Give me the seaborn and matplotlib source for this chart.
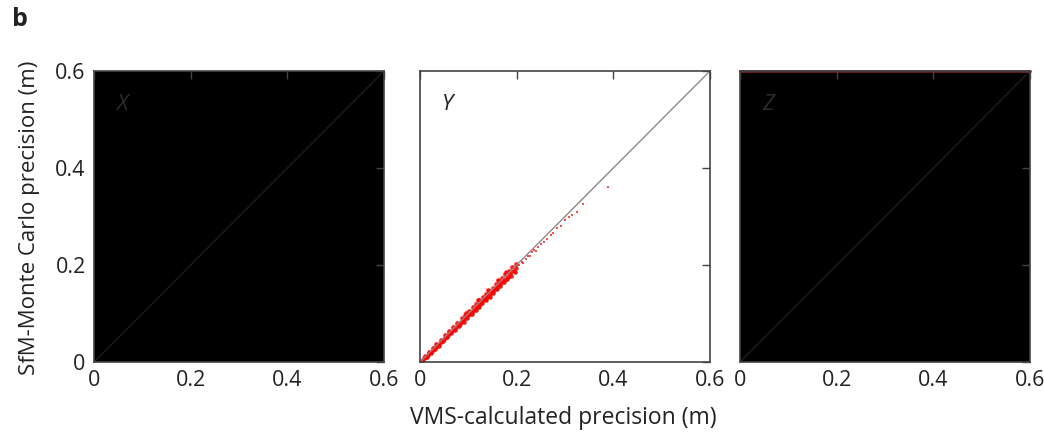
import matplotlib
matplotlib.use("Agg")
import matplotlib.pyplot as plt
import seaborn as sns
import numpy as np
import pandas as pd

sns.set_style("white")
plt.rcParams['font.family'] = ['Open Sans', 'DejaVu Sans']

# ---- data ----
panel_labels = ["X", "Y", "Z"]
tick_values = [0, 0.2, 0.4, 0.6]
tick_labels = ["0", "0.2", "0.4", "0.6"]
diag_x = [0, 0.6]
diag_y = [0, 0.6]

y_band_x = [0.003, 0.006, 0.009, 0.012, 0.016, 0.019, 0.023, 0.026, 0.029, 0.033, 0.036, 0.040,
            0.043, 0.047, 0.050, 0.054, 0.057, 0.061, 0.064, 0.068, 0.071, 0.075, 0.078, 0.082,
            0.085, 0.089, 0.092, 0.096, 0.099, 0.103, 0.106, 0.110, 0.113, 0.117, 0.120, 0.124,
            0.127, 0.131, 0.134, 0.138, 0.141, 0.145, 0.148, 0.152, 0.156, 0.160, 0.164, 0.168,
            0.172, 0.177, 0.182, 0.187, 0.193, 0.199,
            0.010, 0.018, 0.027, 0.034, 0.044, 0.052, 0.060, 0.069, 0.077, 0.086, 0.094, 0.101,
            0.109, 0.116, 0.123, 0.130, 0.137, 0.143, 0.150, 0.157, 0.163, 0.170, 0.176, 0.184,
            0.191, 0.198,
            0.014, 0.022, 0.031, 0.039, 0.048, 0.056, 0.065, 0.073, 0.081, 0.090, 0.098, 0.107,
            0.115, 0.122, 0.129, 0.136, 0.144, 0.151, 0.159, 0.166, 0.173, 0.180, 0.188, 0.196,
            0.095, 0.120, 0.140, 0.162, 0.178]
y_band_y = [0.002, 0.005, 0.009, 0.011, 0.015, 0.018, 0.021, 0.025, 0.028, 0.031, 0.035, 0.038,
            0.042, 0.045, 0.048, 0.052, 0.055, 0.059, 0.062, 0.066, 0.069, 0.072, 0.076, 0.079,
            0.083, 0.086, 0.089, 0.093, 0.096, 0.100, 0.103, 0.106, 0.110, 0.113, 0.116, 0.120,
            0.123, 0.127, 0.130, 0.133, 0.137, 0.140, 0.144, 0.147, 0.151, 0.155, 0.158, 0.163,
            0.166, 0.171, 0.176, 0.181, 0.187, 0.193,
            0.012, 0.020, 0.029, 0.037, 0.046, 0.055, 0.063, 0.072, 0.080, 0.090, 0.097, 0.105,
            0.113, 0.119, 0.127, 0.134, 0.140, 0.147, 0.153, 0.161, 0.167, 0.174, 0.181, 0.188,
            0.196, 0.203,
            0.011, 0.018, 0.027, 0.034, 0.043, 0.051, 0.059, 0.067, 0.075, 0.083, 0.091, 0.099,
            0.107, 0.114, 0.121, 0.128, 0.135, 0.142, 0.150, 0.157, 0.164, 0.171, 0.178, 0.186,
            0.102, 0.128, 0.148, 0.169, 0.186]
y_tail_x = [0.205, 0.210, 0.214, 0.219, 0.223, 0.228, 0.232, 0.236, 0.240, 0.245, 0.250, 0.257,
            0.263, 0.270, 0.276, 0.283, 0.292, 0.300, 0.308, 0.315, 0.324, 0.338, 0.388]
y_tail_y = [0.200, 0.207, 0.204, 0.213, 0.218, 0.219, 0.226, 0.230, 0.228, 0.237, 0.243, 0.247,
            0.254, 0.262, 0.265, 0.276, 0.280, 0.292, 0.299, 0.304, 0.310, 0.326, 0.361]

z_top_x = [0.0, 0.6]
z_top_y = [0.6, 0.6]

# ---- figure ----
fig = plt.figure(figsize=(10.44, 4.38), dpi=100)
W, H = 1044, 438
lefts = [94, 420, 740]
axes = []
for i, l in enumerate(lefts):
    ax = fig.add_axes([l / W, (H - 362) / H, 290 / W, 291 / H])
    axes.append(ax)

spine_col = "#444444"
for i, ax in enumerate(axes):
    black = panel_labels[i] in ("X", "Z")
    ax.set_facecolor("black" if black else "white")
    sns.lineplot(x=diag_x, y=diag_y, ax=ax,
                 color="#1e1e1e" if black else "#8a8a8a", lw=1.0)
    if panel_labels[i] == "Y":
        df_band = pd.DataFrame({"x": y_band_x, "y": y_band_y})
        df_tail = pd.DataFrame({"x": y_tail_x, "y": y_tail_y})
        sns.scatterplot(data=df_band, x="x", y="y", ax=ax, color="red", s=11,
                        marker="o", linewidth=0, alpha=0.9)
        sns.scatterplot(data=df_tail, x="x", y="y", ax=ax, color="#ff2020", s=4,
                        marker="s", linewidth=0, alpha=0.8)
    if panel_labels[i] == "Z":
        sns.lineplot(x=z_top_x, y=z_top_y, ax=ax, color="#6e1e22", lw=2.0)
        ax.lines[-1].set_clip_on(False)
    ax.text(0.045, 0.53, panel_labels[i], fontsize=16, style="italic",
            color="#2c2c2c" if black else "#222222", va="center")
    ax.set_xlim(0, 0.6)
    ax.set_ylim(0, 0.6)
    ax.set_xticks(tick_values)
    ax.set_xticklabels(tick_labels)
    ax.set_yticks(tick_values)
    if i == 0:
        ax.set_yticklabels(tick_labels)
    else:
        ax.set_yticklabels([])
    ax.tick_params(direction="in", length=6, width=1, color=spine_col,
                   top=True, right=True, labelsize=15.5, labelcolor="#222222", pad=6)
    for sp in ax.spines.values():
        sp.set_visible(True)
        sp.set_color(spine_col)
        sp.set_linewidth(1.2)
    ax.set_xlabel("")
    ax.set_ylabel("")

fig.text(563 / W, 1 - 418 / H, "VMS-calculated precision (m)", ha="center", va="center",
         fontsize=16.5, color="#222222")
fig.text(30 / W, 1 - 218 / H, "SfM-Monte Carlo precision (m)", ha="center", va="center",
         rotation=90, fontsize=16, color="#222222")
fig.text(12 / W, 1 - 20 / H, "b", ha="left", va="center", fontsize=18,
         fontweight="bold", color="#222222")

fig.savefig("out.png", dpi=100)
